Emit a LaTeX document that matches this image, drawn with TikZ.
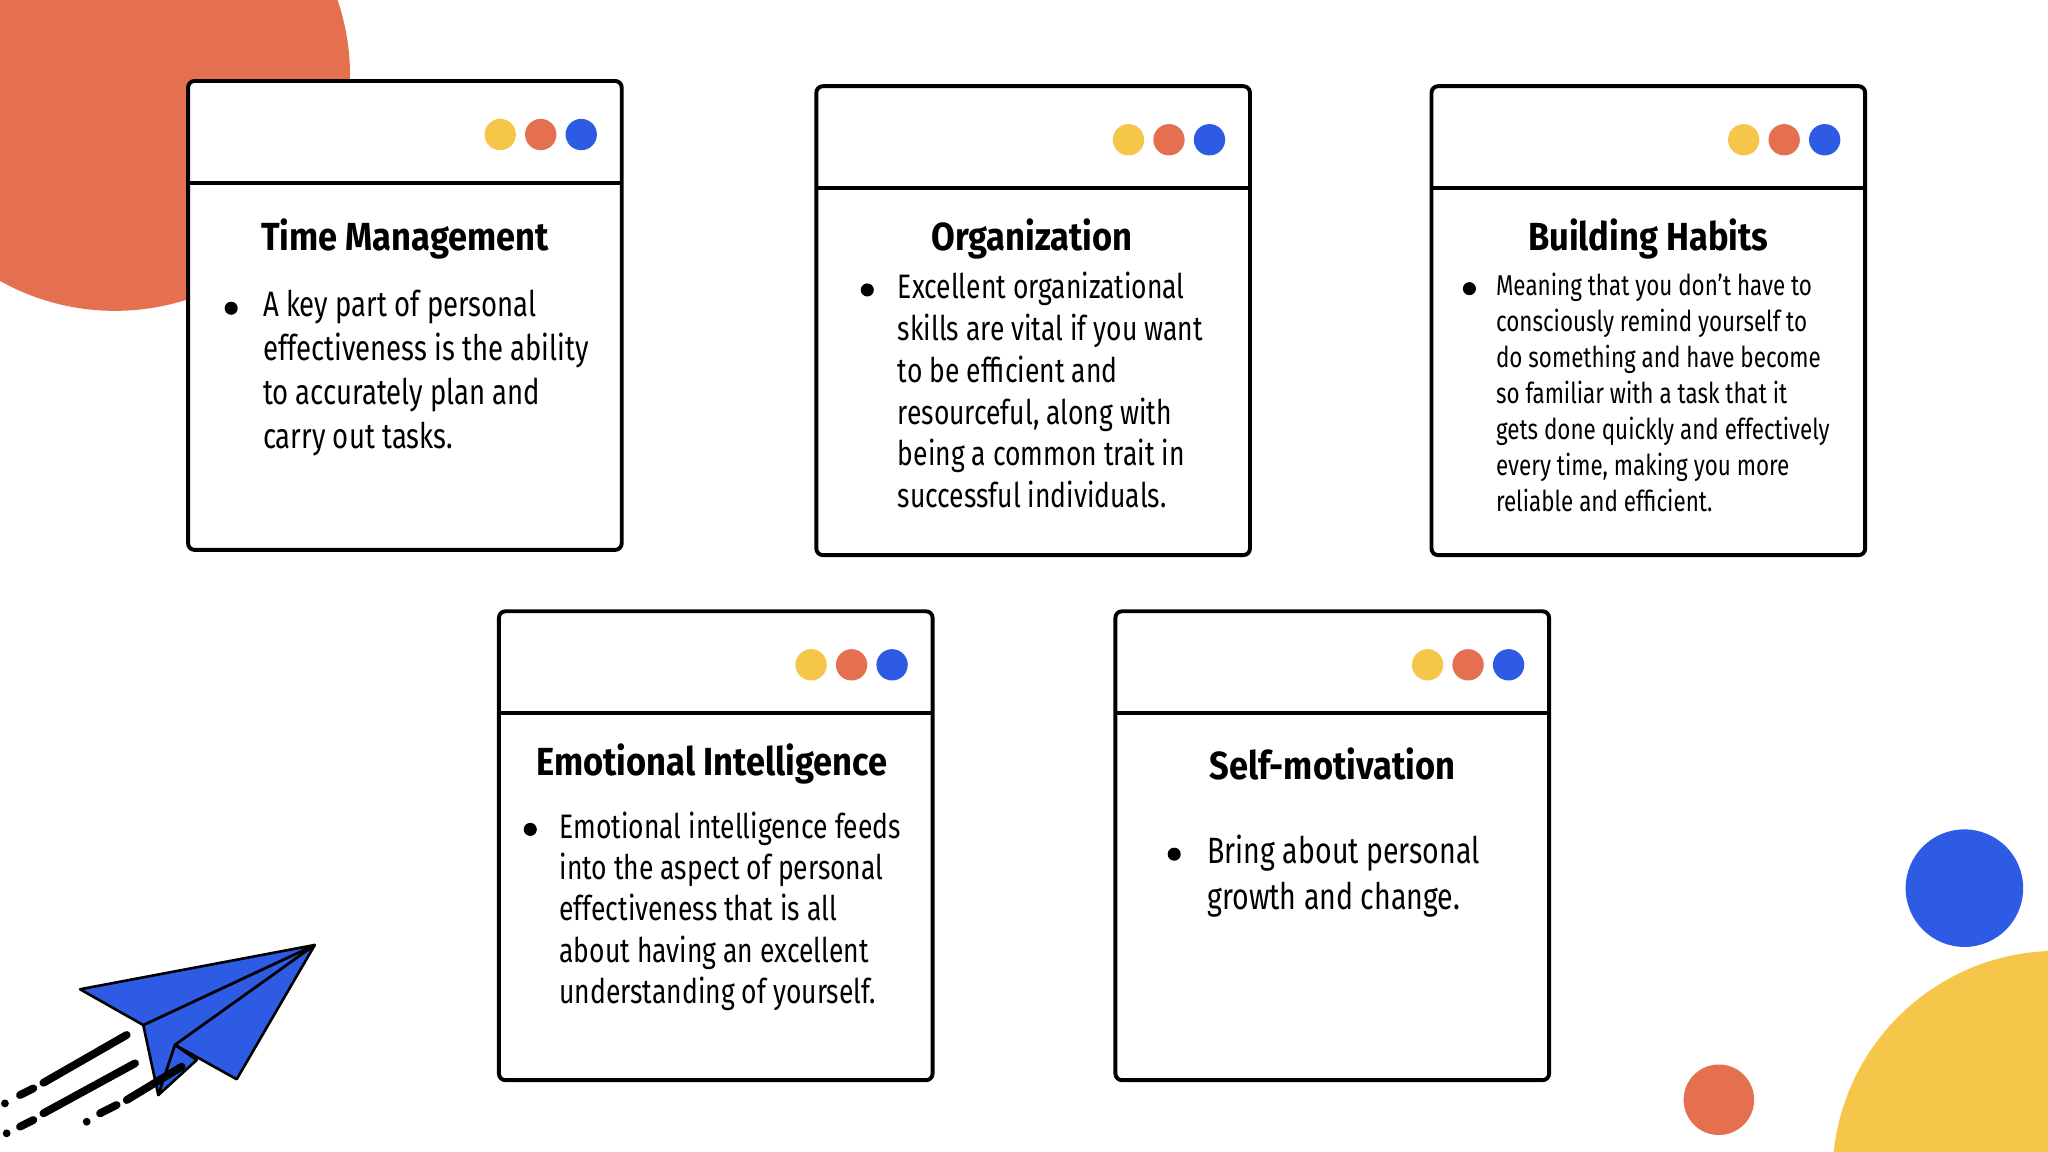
\documentclass[tikz,border=0pt]{standalone}
\usepackage{fontspec}
\setmainfont{Fira Sans}
\newfontfamily\titlef[FakeStretch=0.88]{Fira Sans}[UprightFont=* Bold]
\newfontfamily\bodyf[FakeStretch=0.78]{Fira Sans}
\definecolor{corange}{HTML}{E4704F}
\definecolor{cblue}{HTML}{2D5BE3}
\definecolor{cyellow}{HTML}{F5C64A}
\tikzset{
 card/.style={draw=black,line width=1.5pt,rounded corners=2.5pt,fill=white},
 hline/.style={line width=1.5pt},
 ttl/.style={font=\titlef\fontsize{15}{18}\selectfont,inner sep=0},
 body/.style={align=left,inner sep=0,anchor=north west},
 bul/.style={circle,fill=black,inner sep=0,minimum size=5pt},
 dotc/.style={circle,inner sep=0,minimum size=12pt},
 plane/.style={fill=cblue,draw=black,line width=1pt,line join=round},
 speed/.style={line width=3pt,line cap=round}
}
\begin{document}
\begin{tikzpicture}[x=0.5pt,y=-0.5pt]
\useasboundingbox (0,0) rectangle (1568,882);
\clip (0,0) rectangle (1568,882);
% background circles
\fill[corange] (88,58) circle (180);
\fill[cblue] (1504,680) circle (45);
\fill[cyellow] (1575,900) circle (172);
\fill[corange] (1316,842) circle (27);
% cards
\newcommand\mycard[5]{% name, x0, y0, x1, y1
 \draw[card] (#2,#3) rectangle (#4,#5);
 \coordinate (#1hl) at (#2,#3+78);
 \coordinate (#1hr) at (#4,#3+78);
 \draw[hline] (#1hl) -- (#1hr);
 \node[dotc,fill=cyellow] (#1d1) at (#4-93,#3+41) {};
 \node[dotc,fill=corange] (#1d2) at (#4-62,#3+41) {};
 \node[dotc,fill=cblue] (#1d3) at (#4-31,#3+41) {};
}
\mycard{a}{144}{62}{476}{421}
\mycard{b}{625}{66}{957}{425}
\mycard{c}{1096}{66}{1428}{425}
\mycard{d}{382}{468}{714}{827}
\mycard{e}{854}{468}{1186}{827}
% titles
\node[ttl] (at) at (310,183) {Time Management};
\node[ttl] (bt) at (790,183) {Organization};
\node[ttl] (ct) at (1262,183) {Building Habits};
\node[ttl] (dt) at (545,585) {Emotional Intelligence};
\node[ttl] (et) at (1020,585) {Self-motivation};
% bullets
\node[bul] (ab) at (177,236) {};
\node[bul] (bb) at (664,222) {};
\node[bul] (cb) at (1125,221) {};
\node[bul] (db) at (406,635) {};
\node[bul] (eb) at (899,654) {};
% bodies
\node[body,font=\bodyf\fontsize{13.5}{16.75}\selectfont] (ax) at (201,222) {A key part of personal\\effectiveness is the ability\\to accurately plan and\\carry out tasks.};
\node[body,font=\bodyf\fontsize{13}{16}\selectfont] (bx) at (687,208) {Excellent organizational\\skills are vital if you want\\to be efficient and\\resourceful, along with\\being a common trait in\\successful individuals.};
\node[body,font=\bodyf\fontsize{11}{13.75}\selectfont] (cx) at (1145,209) {Meaning that you don’t have to\\consciously remind yourself to\\do something and have become\\so familiar with a task that it\\gets done quickly and effectively\\every time, making you more\\reliable and efficient.};
\node[body,font=\bodyf\fontsize{13}{15.85}\selectfont] (dx) at (428,621) {Emotional intelligence feeds\\into the aspect of personal\\effectiveness that is all\\about having an excellent\\understanding of yourself.};
\node[body,font=\bodyf\fontsize{14}{17.5}\selectfont] (ex) at (924,639) {Bring about personal\\growth and change.};
% paper plane
\coordinate (pT) at (241,723.5);
\coordinate (pL) at (61.3,757.4);
\coordinate (pA) at (109.7,784.8);
\coordinate (pB) at (134,800);
\coordinate (pC) at (181.2,826.3);
\coordinate (pD) at (121.2,838.4);
\coordinate (pE) at (150.6,811.6);
\draw[plane] (pA) -- (pT) -- (pB) -- (pD) -- cycle;
\draw[plane] (pB) -- (pE) -- (pD) -- cycle;
\draw[plane] (pL) -- (pT) -- (pA) -- cycle;
\draw[plane] (pB) -- (pT) -- (pC) -- cycle;
% speed lines
\draw[speed] (97,792.4) -- (33.2,829);
\draw[speed] (25.5,833.3) -- (15.3,838.4);
\fill (3.8,844.8) circle (3);
\draw[speed] (103.4,814.1) -- (33.2,852.4);
\draw[speed] (25.5,857.5) -- (15.3,862.6);
\fill (5.1,867.7) circle (3);
\draw[speed] (139,816.7) -- (97,842.2);
\draw[speed] (89.3,846) -- (76.6,852.4);
\fill (66.4,858.8) circle (3);
\end{tikzpicture}
\end{document}
